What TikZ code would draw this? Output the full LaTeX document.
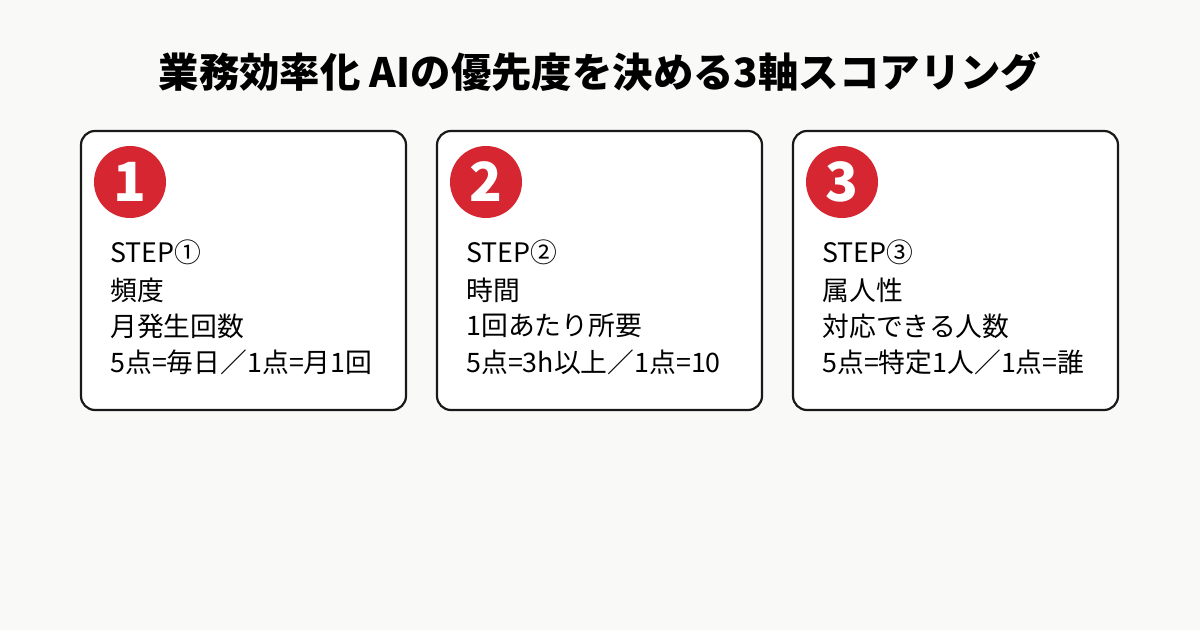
\documentclass[tikz,border=0pt]{standalone}
\usepackage{fontspec}
\setmainfont{Noto Sans CJK JP}
\definecolor{bgcol}{HTML}{F9F9F8}
\definecolor{stepred}{HTML}{D62631}
\begin{document}
\begin{tikzpicture}
  [
    x=0.5pt, y=-0.5pt,
    card/.style={
      draw=black!90,
      line width=1.1pt,
      fill=white,
      rounded corners=7pt
    },
    badge/.style={
      circle,
      fill=stepred,
      minimum size=36pt,
      inner sep=0pt,
      text=white,
      font=\fontsize{27}{27}\selectfont\bfseries
    },
    line/.style={
      anchor=west,
      inner sep=0pt,
      font=\fontsize{13.4}{14}\selectfont
    }
  ]

  % background
  \fill [bgcol] (0,0) rectangle (1200,630);
  \useasboundingbox (0,0) rectangle (1200,630);

  % title
  \node [font=\fontsize{20.2}{20}\selectfont\bfseries] (title) at (600,72)
    {業務効率化 AIの優先度を決める3軸スコアリング};

  % cards
  \foreach \n/\x/\a/\b/\c in {
      1/81/頻度/月発生回数/5点=毎日／1点=月1回,
      2/437/時間/1回あたり所要/5点=3h以上／1点=10,
      3/793/属人性/対応できる人数/5点=特定1人／1点=誰} {
    \draw [card] (\x,131) rectangle (\x+325,410);
    \node [badge] (badge\n) at (\x+49,182) {\n};
    \node [line] (step\n) at (\x+29,252) {STEP\ifcase\n\or ①\or ②\or ③\fi};
    \node [line] (name\n) at (\x+29,290) {\a};
    \node [line] (measure\n) at (\x+29,326) {\b};
    \node [line] (score\n) at (\x+29,362) {\c};
  }
\end{tikzpicture}
\end{document}
